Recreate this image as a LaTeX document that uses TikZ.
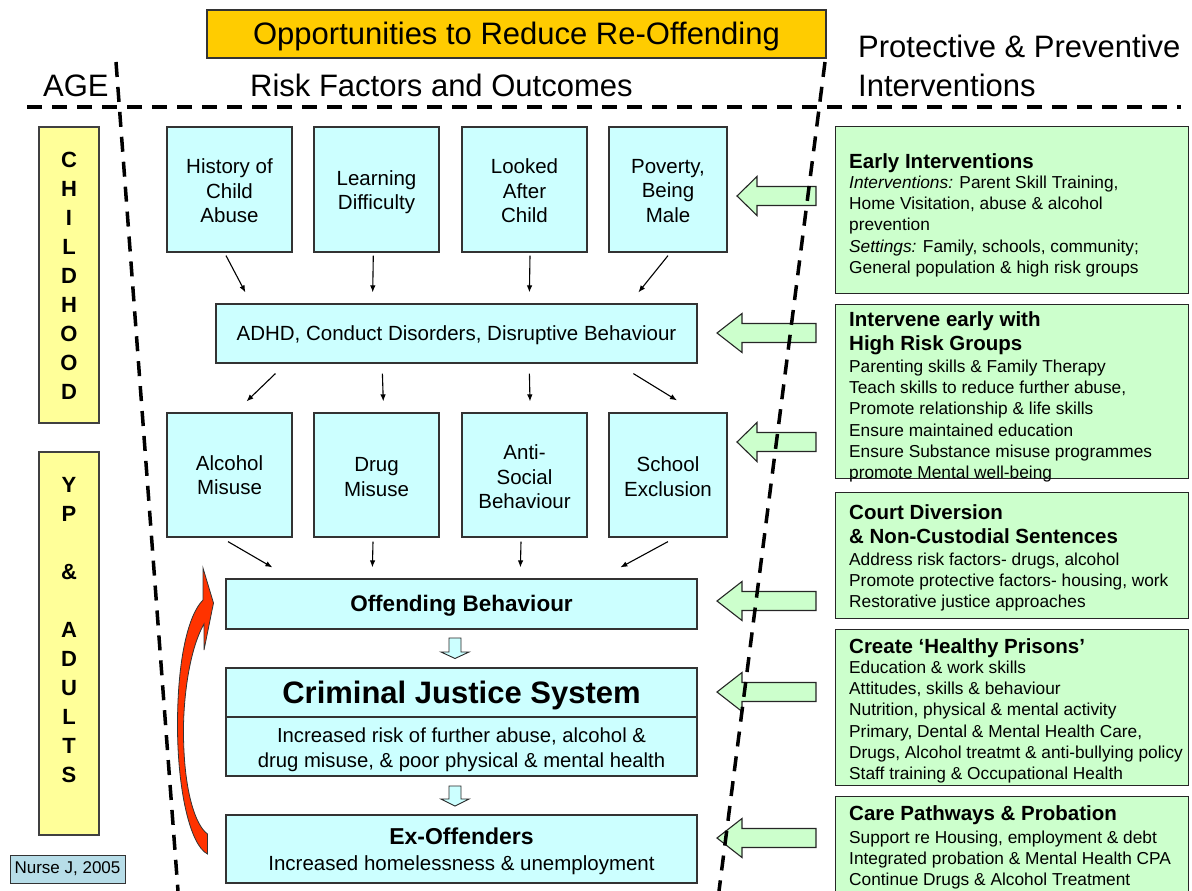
\documentclass[tikz,border=0pt]{standalone}
\usepackage{fontspec}
\setmainfont{Liberation Sans}
\usetikzlibrary{arrows.meta,calc}

\definecolor{cyanfill}{HTML}{CCFFFF}
\definecolor{greenfill}{HTML}{CCFFCC}
\definecolor{agefill}{HTML}{FFFF99}
\definecolor{titlefill}{HTML}{FFCC00}
\definecolor{nursefill}{HTML}{B7DDE8}
\definecolor{redfill}{HTML}{FF3300}

\newcommand\setfs[2]{\fontsize{#1}{#2}\selectfont}

\tikzset{
  % even line box above and below a single line, so that caps sit in the middle
  onestrut/.style={execute at begin node={\rule{0pt}{0.95em}},
    execute at end node={\rule[-0.25em]{0pt}{0pt}}},
  cyanbox/.style={draw=black!80, line width=1.2pt, fill=cyanfill, inner sep=0pt,
    align=center, font=\setfs{20.5}{24.5}},
  boxtext/.style={inner sep=0pt, align=center, font=\setfs{20.5}{24.5}},
  titlebox/.style={draw=black!80, line width=1.2pt, fill=titlefill, inner sep=0pt,
    minimum width=619, minimum height=48, font=\setfs{31}{38}, onestrut},
  agebox/.style={draw=black!75, line width=1.2pt, fill=agefill, inner sep=0pt},
  agetext/.style={inner sep=0pt, align=center, font=\setfs{22}{29}\bfseries},
  nursebox/.style={draw=black!80, line width=1pt, fill=nursefill, inner sep=0pt,
    minimum width=115, minimum height=28, font=\setfs{17}{20}},
  greenbox/.style={draw=black!85, line width=1.3pt, fill=greenfill, inner sep=0pt,
    anchor=north west, minimum width=353},
  gtitle/.style={inner sep=0pt, anchor=north west, align=left,
    font=\setfs{20.5}{24.5}\bfseries},
  gbody/.style={inner sep=0pt, anchor=north west, align=left, font=\setfs{17.3}{21.1}},
  heading/.style={inner sep=0pt, anchor=base west, font=\setfs{31}{38}},
  arr/.style={-{Latex[length=7pt,width=5.5pt]}, line width=1.1pt},
  divider/.style={line width=3.5pt, dash pattern=on 15pt off 10pt},
  greenarrow/.style={draw=black!85, line width=1.1pt, fill=greenfill},
  hollowarrow/.style={draw=black!85, line width=0.9pt, fill=cyanfill},
  redarrow/.style={draw=black!80, line width=0.8pt, fill=redfill},
  pics/blockarrow/.style 2 args={code={
    \draw[greenarrow] (0,0) -- (#2,-19.5) -- (#2,-9.5) -- (#1,-9.5) -- (#1,9.5)
      -- (#2,9.5) -- (#2,19.5) -- cycle;}},
}

\begin{document}
\begin{tikzpicture}[x=1pt,y=-1pt]
\useasboundingbox (0,0) rectangle (1192,891);

% ---------- headings ----------
\node[titlebox] (title) at (516.5,34) {Opportunities to Reduce Re-Offending};
\node[heading] (age) at (43,96) {AGE};
\node[heading] (risk) at (250,96) {Risk Factors and Outcomes};
\node[heading] (prot) at (858,58) {Protective \& Preventive};
\node[heading] (interv) at (858,96) {Interventions};

% ---------- age bands ----------
\node[agebox, minimum width=60, minimum height=296] (childbox) at (69,275) {};
\node[agetext] (childtext) at (69,276) {C\\H\\I\\L\\D\\H\\O\\O\\D};
\node[agebox, minimum width=60, minimum height=383] (adultbox) at (69,643.5) {};
\node[agetext] (adulttext) at (69,630) {Y\\P\\[29pt]\&\\[29pt]A\\D\\U\\L\\T\\S};
\node[nursebox] (nurse) at (67.5,869) {Nurse J, 2005};

% ---------- risk factors ----------
\node[cyanbox, minimum width=125, minimum height=125] (hist)   at (229.5,189.5) {};
\node[cyanbox, minimum width=125, minimum height=125] (learn)  at (376.5,189.5) {};
\node[cyanbox, minimum width=125, minimum height=125] (looked) at (524.5,189.5) {};
\node[cyanbox, minimum width=118, minimum height=125] (pov)    at (668,189.5)   {};
\node[boxtext] (histtxt)   at ([yshift=-1.5pt]hist.center)   {History of\\Child\\Abuse};
\node[boxtext] (learntxt)  at ([yshift=-2.5pt]learn.center)  {Learning\\Difficulty};
\node[boxtext] (lookedtxt) at ([yshift=-1.5pt]looked.center) {Looked\\After\\Child};
\node[boxtext] (povtxt)    at ([yshift=-1.5pt]pov.center)    {Poverty,\\Being\\Male};

\node[cyanbox, onestrut, minimum width=481, minimum height=59] (adhd) at (456.5,333.5)
  {ADHD, Conduct Disorders, Disruptive Behaviour};

\node[cyanbox, minimum width=125, minimum height=124] (alc)    at (229.5,475) {};
\node[cyanbox, minimum width=125, minimum height=124] (drug)   at (376.5,475) {};
\node[cyanbox, minimum width=125, minimum height=124] (anti)   at (524.5,475) {};
\node[cyanbox, minimum width=118, minimum height=124] (school) at (668,475)   {};
\node[boxtext] (alctxt)    at ([yshift=0pt]alc.center)      {Alcohol\\Misuse};
\node[boxtext] (drugtxt)   at ([yshift=-2pt]drug.center)    {Drug\\Misuse};
\node[boxtext] (antitxt)   at ([yshift=-2pt]anti.center)    {Anti-\\Social\\Behaviour};
\node[boxtext] (schooltxt) at ([yshift=-1.5pt]school.center) {School\\Exclusion};

\node[cyanbox, onestrut, minimum width=471, minimum height=50, font=\setfs{22.5}{26}\bfseries] (off)
  at (461.5,604) {Offending Behaviour};
\node[cyanbox, onestrut, minimum width=471, minimum height=49, font=\setfs{31}{36}\bfseries] (cjs)
  at (461.5,692.5) {Criminal Justice System};
\node[cyanbox, minimum width=471, minimum height=59] (cjsrisk) at (461.5,746.5) {};
\node[boxtext, font=\setfs{20.3}{25}] (cjsrisktxt) at ([yshift=-3pt]cjsrisk.center)
  {Increased risk of further abuse, alcohol \&\\drug misuse, \& poor physical \& mental health};
\node[cyanbox, minimum width=471, minimum height=68] (exoff) at (461.5,849) {};
\node[boxtext, font=\setfs{20.5}{26}] (exofftxt) at ([yshift=-2.5pt]exoff.center)
  {{\setfs{23}{26}\bfseries Ex-Offenders}\\Increased homelessness \& unemployment};

% ---------- connectors ----------
\draw[arr] ($(hist.south)+(-3.5,3)$)   -- ($(adhd.north west)+(30,-11)$);
\draw[arr] ($(learn.south)+(-3.2,3)$)  -- ($(adhd.north west)+(157.3,-11)$);
\draw[arr] ($(looked.south)+(5.5,3)$)  -- ($(adhd.north west)+(314,-11)$);
\draw[arr] ($(pov.south)+(0,3)$)       -- ($(adhd.north west)+(423,-11)$);

\draw[arr] ($(adhd.south west)+(60,10)$)  -- ($(alc.north)+(17,-11)$);
\draw[arr] ($(adhd.south west)+(167,10)$) -- ($(drug.north)+(6.8,-11)$);
\draw[arr] ($(adhd.south west)+(314,10)$) -- ($(anti.north)+(5.5,-11)$);
\draw[arr] ($(adhd.south west)+(418,10)$) -- ($(school.north)+(9,-12)$);

\draw[arr] ($(alc.south)+(-1.5,4)$)  -- ($(off.north west)+(47,-11)$);
\draw[arr] ($(drug.south)+(-3.5,4)$) -- ($(off.north west)+(147,-11)$);
\draw[arr] ($(anti.south)+(-3.5,4)$) -- ($(off.north west)+(295,-11)$);
\draw[arr] ($(school.south)+(0,4)$)  -- ($(off.north west)+(395,-11)$);

% hollow step arrows
\draw[hollowarrow] (449,638) -- (461,638) -- (461,652) -- (469,652) -- (455,658.5)
  -- (441,652) -- (449,652) -- cycle;
\draw[hollowarrow] (449,786) -- (461,786) -- (461,799) -- (469,799) -- (455,806)
  -- (441,799) -- (449,799) -- cycle;

% re-offending loop
\draw[redarrow] (203,568) -- (213.5,603) -- (204,650) -- (204,624)
  .. controls (189,650) and (183,700) .. (183.5,735)
  .. controls (184,790) and (195,825) .. (207.5,834)
  -- (207.5,854)
  .. controls (190,845) and (177.5,790) .. (177.5,725)
  .. controls (177.5,660) and (188,615) .. (203,600) -- cycle;

% ---------- interventions ----------
\node[greenbox, minimum height=167] (g1) at (835,126) {};
\node[greenbox, minimum height=174] (g2) at (835,304) {};
\node[greenbox, minimum height=126] (g3) at (835,492) {};
\node[greenbox, minimum height=156] (g4) at (835,629) {};
\node[greenbox, minimum height=110] (g5) at (835,796) {};

\node[gtitle] (g1t) at (849,153) {Early Interventions};
\node[gbody]  (g1b) at (849,176) {\textit{Interventions:} Parent Skill Training,\\Home Visitation, abuse \& alcohol\\prevention\\\textit{Settings:} Family, schools, community;\\General population \& high risk groups};

\node[gtitle] (g2t) at (849,311) {Intervene early with\\High Risk Groups};
\node[gbody]  (g2b) at (849,360) {Parenting skills \& Family Therapy\\Teach skills to reduce further abuse,\\Promote relationship \& life skills\\Ensure maintained education\\Ensure Substance misuse programmes\\promote Mental well-being};

\node[gtitle] (g3t) at (849,504) {Court Diversion\\\& Non-Custodial Sentences};
\node[gbody]  (g3b) at (849,553) {Address risk factors- drugs, alcohol\\Promote protective factors- housing, work\\Restorative justice approaches};

\node[gtitle] (g4t) at (849,638) {Create ‘Healthy Prisons’};
\node[gbody]  (g4b) at (849,661) {Education \& work skills\\Attitudes, skills \& behaviour\\Nutrition, physical \& mental activity\\Primary, Dental \& Mental Health Care,\\Drugs, Alcohol treatmt \& anti-bullying policy\\Staff training \& Occupational Health};

\node[gtitle] (g5t) at (849,805) {Care Pathways \& Probation};
\node[gbody]  (g5b) at (849,831) {Support re Housing, employment \& debt\\Integrated probation \& Mental Health CPA\\Continue Drugs \& Alcohol Treatment};

% block arrows pointing at the risk stages
\pic at (737,196) {blockarrow={79}{20}};
\pic at (717,333) {blockarrow={99}{25}};
\pic at (737,442) {blockarrow={79}{20}};
\pic at (717,601) {blockarrow={99}{25}};
\pic at (717,692) {blockarrow={99}{25}};
\pic at (717,838) {blockarrow={99}{25}};

% ---------- column dividers ----------
\draw[divider] (27,107) -- (1181,107);
\draw[divider] (116,62) -- (178,891);
\draw[divider] (825,62) -- (719,891);
\end{tikzpicture}
\end{document}
